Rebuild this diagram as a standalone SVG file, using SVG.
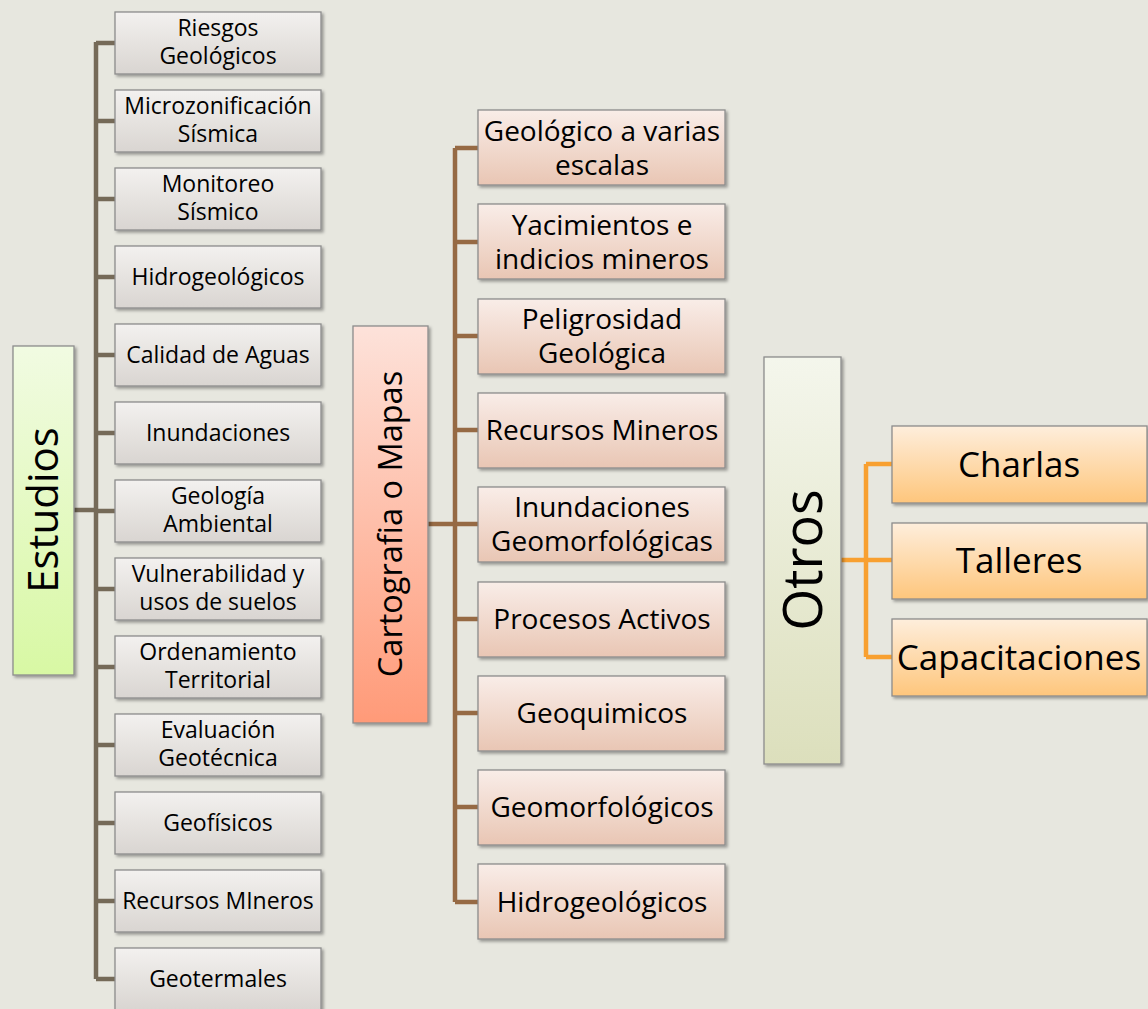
<svg xmlns="http://www.w3.org/2000/svg" width="1148" height="1009" viewBox="0 0 1148 1009">
<defs>
<linearGradient id="gGray" x1="0" y1="0" x2="0" y2="1"><stop offset="0" stop-color="#f3f1ef"/><stop offset="1" stop-color="#d9d5d1"/></linearGradient>
<linearGradient id="gPeach" x1="0" y1="0" x2="0" y2="1"><stop offset="0" stop-color="#f9ede8"/><stop offset="1" stop-color="#e9c6b4"/></linearGradient>
<linearGradient id="gOrange" x1="0" y1="0" x2="0" y2="1"><stop offset="0" stop-color="#feeedc"/><stop offset="1" stop-color="#fec67c"/></linearGradient>
<linearGradient id="gGreen" x1="0" y1="0" x2="0" y2="1"><stop offset="0" stop-color="#f1fbe2"/><stop offset="1" stop-color="#d8f8a4"/></linearGradient>
<linearGradient id="gSalmon" x1="0" y1="0" x2="0" y2="1"><stop offset="0" stop-color="#fde2da"/><stop offset="1" stop-color="#ff9a78"/></linearGradient>
<linearGradient id="gOlive" x1="0" y1="0" x2="0" y2="1"><stop offset="0" stop-color="#f4f6ec"/><stop offset="1" stop-color="#dcdfbc"/></linearGradient>
<filter id="sh" x="-10%" y="-10%" width="130%" height="130%"><feDropShadow dx="2" dy="2" stdDeviation="1.5" flood-color="#000" flood-opacity="0.35"/></filter>
</defs>
<style>
.box{stroke:#8c8c8c;stroke-width:1.3;filter:url(#sh)}
.t{font-family:"Open Sans","Noto Sans","Liberation Sans",sans-serif;fill:#000;text-anchor:middle}
.s{font-size:23px}
.m{font-size:28px}
.l{font-size:35px}
.c1{stroke:#756a58;stroke-width:4.5;fill:none}
.c2{stroke:#966a44;stroke-width:4.5;fill:none}
.c3{stroke:#f8a030;stroke-width:4.5;fill:none}
</style>
<rect width="1148" height="1009" fill="#e7e7df"/>
<g id="connectors">
<path class="c1" d="M74 510H96M96 42V979M96 43H115M96 121H115M96 199H115M96 277H115M96 355H115M96 433H115M96 511H115M96 589H115M96 667H115M96 745H115M96 823H115M96 901H115M96 979H115"/>
<path class="c2" d="M428 524H455M455 148V902M455 148H478M455 242H478M455 336H478M455 430H478M455 524H478M455 619H478M455 713H478M455 807H478M455 902H478"/>
<path class="c3" d="M841 560H892M866 464V657M866 464H892M866 560H892M866 657H892"/>
</g>
<g id="estudios"><rect class="box" x="13" y="346" width="61" height="329" fill="url(#gGreen)"/><text class="t" font-size="42" transform="translate(58 510) rotate(-90)">Estudios</text></g>
<g id="cartografia"><rect class="box" x="353" y="326" width="75" height="397" fill="url(#gSalmon)"/><text class="t" font-size="32.5" transform="translate(402 524) rotate(-90)">Cartografia o Mapas</text></g>
<g id="otros"><rect class="box" x="764" y="357" width="77" height="407" fill="url(#gOlive)"/><text class="t" font-size="54" transform="translate(822 560) rotate(-90)">Otros</text></g>

<g id="e1"><rect class="box" x="115" y="12" width="206" height="62" fill="url(#gGray)"/><text class="t s" x="218" y="36">Riesgos</text><text class="t s" x="218" y="64">Geológicos</text></g>
<g id="e2"><rect class="box" x="115" y="90" width="206" height="62" fill="url(#gGray)"/><text class="t s" x="218" y="114">Microzonificación</text><text class="t s" x="218" y="142">Sísmica</text></g>
<g id="e3"><rect class="box" x="115" y="168" width="206" height="62" fill="url(#gGray)"/><text class="t s" x="218" y="192">Monitoreo</text><text class="t s" x="218" y="220">Sísmico</text></g>
<g id="e4"><rect class="box" x="115" y="246" width="206" height="62" fill="url(#gGray)"/><text class="t s" x="218" y="285">Hidrogeológicos</text></g>
<g id="e5"><rect class="box" x="115" y="324" width="206" height="62" fill="url(#gGray)"/><text class="t s" x="218" y="363">Calidad de Aguas</text></g>
<g id="e6"><rect class="box" x="115" y="402" width="206" height="62" fill="url(#gGray)"/><text class="t s" x="218" y="441">Inundaciones</text></g>
<g id="e7"><rect class="box" x="115" y="480" width="206" height="62" fill="url(#gGray)"/><text class="t s" x="218" y="504">Geología</text><text class="t s" x="218" y="532">Ambiental</text></g>
<g id="e8"><rect class="box" x="115" y="558" width="206" height="62" fill="url(#gGray)"/><text class="t s" x="218" y="582">Vulnerabilidad y</text><text class="t s" x="218" y="610">usos de suelos</text></g>
<g id="e9"><rect class="box" x="115" y="636" width="206" height="62" fill="url(#gGray)"/><text class="t s" x="218" y="660">Ordenamiento</text><text class="t s" x="218" y="688">Territorial</text></g>
<g id="e10"><rect class="box" x="115" y="714" width="206" height="62" fill="url(#gGray)"/><text class="t s" x="218" y="738">Evaluación</text><text class="t s" x="218" y="766">Geotécnica</text></g>
<g id="e11"><rect class="box" x="115" y="792" width="206" height="62" fill="url(#gGray)"/><text class="t s" x="218" y="831">Geofísicos</text></g>
<g id="e12"><rect class="box" x="115" y="870" width="206" height="62" fill="url(#gGray)"/><text class="t s" x="218" y="909">Recursos MIneros</text></g>
<g id="e13"><rect class="box" x="115" y="948" width="206" height="62" fill="url(#gGray)"/><text class="t s" x="218" y="987">Geotermales</text></g>

<g id="c1"><rect class="box" x="478" y="110" width="247" height="75" fill="url(#gPeach)"/><text class="t m" x="602" y="141">Geológico a varias</text><text class="t m" x="602" y="175">escalas</text></g>
<g id="c2"><rect class="box" x="478" y="204" width="247" height="75" fill="url(#gPeach)"/><text class="t m" x="602" y="235">Yacimientos e</text><text class="t m" x="602" y="269">indicios mineros</text></g>
<g id="c3"><rect class="box" x="478" y="299" width="247" height="75" fill="url(#gPeach)"/><text class="t m" x="602" y="329">Peligrosidad</text><text class="t m" x="602" y="363">Geológica</text></g>
<g id="c4"><rect class="box" x="478" y="393" width="247" height="75" fill="url(#gPeach)"/><text class="t m" x="602" y="440">Recursos Mineros</text></g>
<g id="c5"><rect class="box" x="478" y="487" width="247" height="75" fill="url(#gPeach)"/><text class="t m" x="602" y="517">Inundaciones</text><text class="t m" x="602" y="551">Geomorfológicas</text></g>
<g id="c6"><rect class="box" x="478" y="582" width="247" height="75" fill="url(#gPeach)"/><text class="t m" x="602" y="629">Procesos Activos</text></g>
<g id="c7"><rect class="box" x="478" y="676" width="247" height="75" fill="url(#gPeach)"/><text class="t m" x="602" y="723">Geoquimicos</text></g>
<g id="c8"><rect class="box" x="478" y="770" width="247" height="75" fill="url(#gPeach)"/><text class="t m" x="602" y="817">Geomorfológicos</text></g>
<g id="c9"><rect class="box" x="478" y="864" width="247" height="75" fill="url(#gPeach)"/><text class="t m" x="602" y="912">Hidrogeológicos</text></g>

<g id="o1"><rect class="box" x="892" y="426" width="255" height="77" fill="url(#gOrange)"/><text class="t l" x="1019" y="477">Charlas</text></g>
<g id="o2"><rect class="box" x="892" y="523" width="255" height="76" fill="url(#gOrange)"/><text class="t l" x="1019" y="573">Talleres</text></g>
<g id="o3"><rect class="box" x="892" y="619" width="255" height="77" fill="url(#gOrange)"/><text class="t l" x="1019" y="670">Capacitaciones</text></g>
</svg>
